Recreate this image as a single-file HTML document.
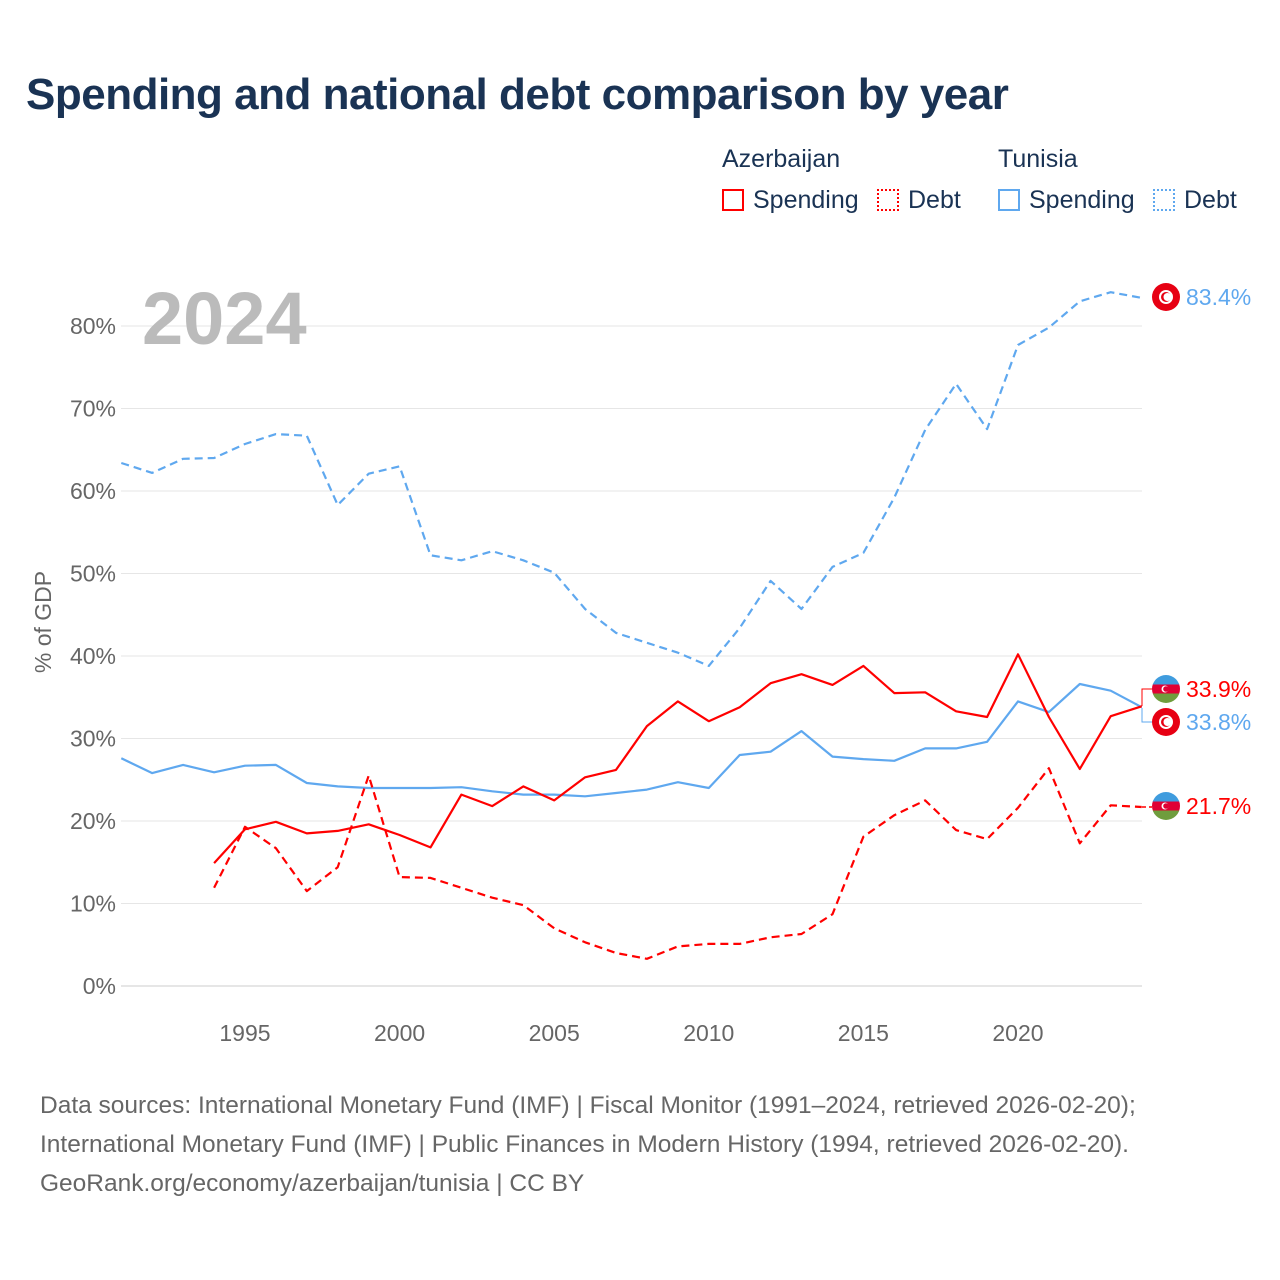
<!DOCTYPE html>
<html><head><meta charset="utf-8"><style>
body{margin:0;width:1280px;height:1280px;background:#fff;font-family:"Liberation Sans",sans-serif;overflow:hidden}
#wrap{position:relative;width:1280px;height:1280px}
h1{position:absolute;left:26px;top:70px;margin:0;font-size:44px;font-weight:bold;color:#1a3354;letter-spacing:-0.5px}
.lg{position:absolute;font-size:25px;color:#1a3354}
.sw{position:absolute;width:22px;height:22px;box-sizing:border-box}
.foot{position:absolute;left:40px;top:1086px;font-size:24.5px;line-height:39px;color:#666}
</style></head><body><div id="wrap">
<h1>Spending and national debt comparison by year</h1>
<div class="lg" style="left:722px;top:145px">Azerbaijan</div>
<div class="lg" style="left:998px;top:145px">Tunisia</div>
<div class="sw" style="left:722px;top:189px;border:2px solid #f00"></div>
<div class="lg" style="left:753px;top:186px">Spending</div>
<div class="sw" style="left:877px;top:189px;border:2px dotted #f00"></div>
<div class="lg" style="left:908px;top:186px">Debt</div>
<div class="sw" style="left:998px;top:189px;border:2px solid #5fa8ef"></div>
<div class="lg" style="left:1029px;top:186px">Spending</div>
<div class="sw" style="left:1153px;top:189px;border:2px dotted #5fa8ef"></div>
<div class="lg" style="left:1184px;top:186px">Debt</div>
<svg id="chart" width="1280" height="1280" style="position:absolute;left:0;top:0"></svg>
<div class="foot">Data sources: International Monetary Fund (IMF) | Fiscal Monitor (1991–2024, retrieved 2026-02-20);<br>International Monetary Fund (IMF) | Public Finances in Modern History (1994, retrieved 2026-02-20).<br>GeoRank.org/economy/azerbaijan/tunisia | CC BY</div>
</div>
<script>
const years=[];for(let y=1991;y<=2024;y++)years.push(y);
const tnDebt=[63.4,62.2,63.9,64.0,65.7,66.9,66.7,58.3,62.1,63.0,52.2,51.6,52.7,51.6,50.1,45.7,42.8,41.6,40.4,38.8,43.4,49.1,45.7,50.8,52.5,59.2,67.4,73.0,67.5,77.7,79.8,83.0,84.1,83.4];
const tnSpend=[27.6,25.8,26.8,25.9,26.7,26.8,24.6,24.2,24.0,24.0,24.0,24.1,23.6,23.2,23.2,23.0,23.4,23.8,24.7,24.0,28.0,28.4,30.9,27.8,27.5,27.3,28.8,28.8,29.6,34.5,33.2,36.6,35.8,33.8];
const azSpend=[null,null,null,14.9,19.0,19.9,18.5,18.8,19.6,18.3,16.8,23.2,21.8,24.2,22.5,25.3,26.2,31.5,34.5,32.1,33.8,36.7,37.8,36.5,38.8,35.5,35.6,33.3,32.6,40.2,32.6,26.3,32.7,33.9];
const azDebt=[null,null,null,11.9,19.3,16.7,11.5,14.4,25.5,13.2,13.1,11.9,10.7,9.8,7.0,5.3,4.0,3.3,4.8,5.1,5.1,5.9,6.3,8.7,18.1,20.7,22.5,18.9,17.8,21.6,26.4,17.3,21.9,21.7];
const yTicks=[0,10,20,30,40,50,60,70,80];
const xTicks=[1995,2000,2005,2010,2015,2020];
const NS="http://www.w3.org/2000/svg",svg=document.getElementById('chart');
const X=y=>121.3+(y-1991)*30.92, Y=v=>986-v*8.25;
function el(t,a,p){const e=document.createElementNS(NS,t);for(const k in a)e.setAttribute(k,a[k]);(p||svg).appendChild(e);return e;}
yTicks.forEach(v=>{
 const l=el('line',{x1:121,x2:1142,y1:Y(v),y2:Y(v),stroke:v===0?'#ccc':'#e6e6e6','stroke-width':1});
 
 
 const t=el('text',{x:116,y:Y(v)+8,'text-anchor':'end','font-size':23,fill:'#666','font-family':'Liberation Sans'});t.textContent=v+'%';
 
 
});
xTicks.forEach(v=>{
 const t=el('text',{x:X(v),y:1041,'text-anchor':'middle','font-size':23,fill:'#666','font-family':'Liberation Sans'});t.textContent=v;
 
 
});
const yt=el('text',{transform:'translate(51,622) rotate(-90)','text-anchor':'middle','font-size':23,fill:'#666','font-family':'Liberation Sans'});yt.textContent='% of GDP';


const yr=el('text',{x:142,y:344,'font-size':74,'font-weight':'bold',fill:'#bbb','font-family':'Liberation Sans'});yr.textContent='2024';


function line(data,color,dash,name){
 let d='';data.forEach((v,i)=>{if(v==null)return;d+=(d?'L':'M')+X(years[i]).toFixed(1)+','+Y(v).toFixed(1);});
 const p=el('path',{d:d,fill:'none',stroke:color,'stroke-width':2.2,'stroke-dasharray':dash||'none','stroke-linejoin':'round'});
 
 
}
line(tnDebt,'#5fa8ef','8,5','line-tunisia-debt');
line(tnSpend,'#5fa8ef',null,'line-tunisia-spending');
line(azDebt,'#f00','8,5','line-azerbaijan-debt');
line(azSpend,'#f00',null,'line-azerbaijan-spending');
function flag(cx,cy,c){
 const g=el('g',{});
 
 
 if(c==='tn'){
  el('circle',{cx,cy,r:14,fill:'#e70013'},g);el('circle',{cx,cy,r:7,fill:'#fff'},g);
  el('circle',{cx:cx,cy,r:5,fill:'#e70013'},g);el('circle',{cx:cx+1.5,cy,r:4,fill:'#fff'},g);
 } else {
  const id='cp'+Math.round(cy);const cp=el('clipPath',{id},g);el('circle',{cx,cy,r:14},cp);
  el('rect',{x:cx-14,y:cy-14,width:28,height:10,fill:'#3f9cde','clip-path':`url(#${id})`},g);
  el('rect',{x:cx-14,y:cy-4.5,width:28,height:9,fill:'#e00034','clip-path':`url(#${id})`},g);
  el('rect',{x:cx-14,y:cy+4.5,width:28,height:10,fill:'#6f9d3d','clip-path':`url(#${id})`},g);
  el('circle',{cx:cx-1,cy,r:3.5,fill:'#fff'},g);el('circle',{cx:cx,cy,r:2.8,fill:'#e00034'},g);
 }
}
// end labels
el('path',{d:'M1142,706 L1142,689 L1152,689',fill:'none',stroke:'#f00','stroke-width':1});
el('path',{d:'M1142,708 L1142,722 L1152,722',fill:'none',stroke:'#5fa8ef','stroke-width':1});
el('path',{d:'M1142,807 L1152,807',fill:'none',stroke:'#f00','stroke-width':1.5,'stroke-dasharray':'4,3'});
const labs=[[297,'tn','#5fa8ef','83.4%'],[689,'az','#f00','33.9%'],[722,'tn','#5fa8ef','33.8%'],[806,'az','#f00','21.7%']];
labs.forEach(a=>{flag(1166,a[0],a[1]);
 const t=el('text',{x:1186,y:a[0]+8,'font-size':23,fill:a[2],'font-family':'Liberation Sans'});t.textContent=a[3];
 
 
});
</script></body></html>
